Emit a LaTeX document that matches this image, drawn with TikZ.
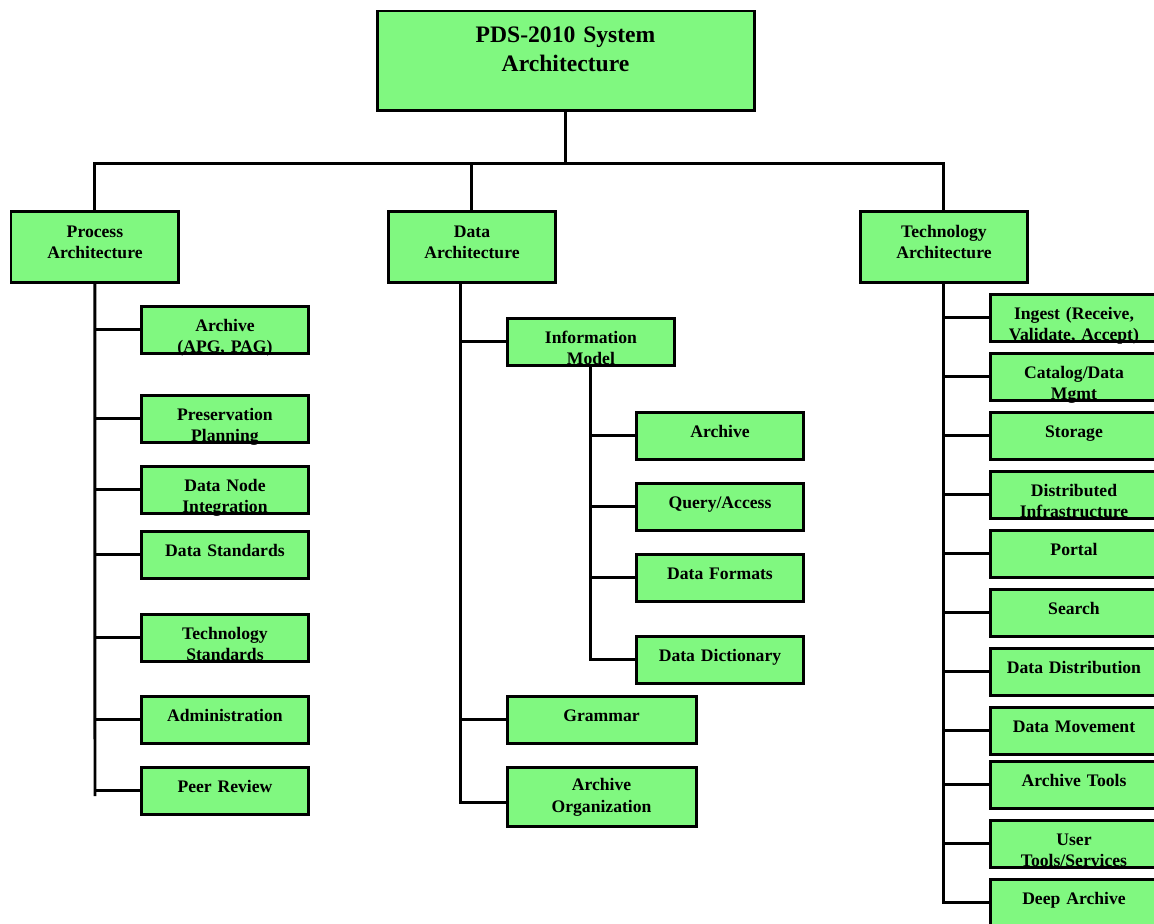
\documentclass[tikz,border=0pt]{standalone}
\usepackage{fontspec}
\setmainfont{Liberation Serif}
\definecolor{boxgreen}{RGB}{128,248,128}

\begin{document}
\begin{tikzpicture}[x=0.5675pt, y=-0.5675pt, line width=1.7pt,
        box/.style={draw, fill=boxgreen, line width=1.7pt, anchor=north west,
            outer sep=0pt, inner xsep=0pt, inner ysep=0pt, align=center,
            text width=95.3pt, text height=14.2pt, text depth=12.5pt,
            font=\bfseries\fontsize{10}{12}\selectfont},
        headbox/.style={box, text height=14.8pt, text depth=25.5pt},
        topbox/.style={box, text width=214pt, text height=18.1pt, text depth=38.6pt,
            font=\bfseries\fontsize{13.4}{16}\selectfont},
        widebox/.style={box, text width=107.3pt},
        tallbox/.style={box, text width=107.3pt, text height=13.6pt, text depth=19.9pt}]
        \useasboundingbox (0,0) rectangle (1154,923);
        \node[topbox] (top) at (377,11) {PDS-2010 System\\Architecture};
        \node[headbox] (proc) at (11,211) {Process\\Architecture};
        \node[headbox] (data) at (388,211) {Data\\Architecture};
        \node[headbox] (tech) at (860,211) {Technology\\Architecture};
        % process architecture
        \node[box] (parch) at (141,306) {Archive\\(APG, PAG)};
        \node[box] (ppres) at (141,395) {Preservation\\Planning};
        \node[box] (pnode) at (141,466) {Data Node\\Integration};
        \node[box] (pstd) at (141,531) {Data Standards};
        \node[box] (ptech) at (141,614) {Technology\\Standards};
        \node[box] (padmin) at (141,696) {Administration};
        \node[box] (ppeer) at (141,767) {Peer Review};
        % data architecture
        \node[box] (info) at (507,318) {Information\\Model};
        \node[box] (darch) at (636,412) {Archive};
        \node[box] (dquery) at (636,483) {Query/Access};
        \node[box] (dfmt) at (636,554) {Data Formats};
        \node[box] (ddict) at (636,636) {Data Dictionary};
        \node[widebox] (dgram) at (507,696) {Grammar};
        \node[tallbox] (dorg) at (507,767) {Archive\\Organization};
        % technology architecture
        \node[box] (ingest) at (990,294) {Ingest (Receive,\\Validate, Accept)};
        \node[box] (catalog) at (990,353) {Catalog/Data\\Mgmt};
        \node[box] (storage) at (990,412) {Storage};
        \node[box] (distr) at (990,471) {Distributed\\Infrastructure};
        \node[box] (portal) at (990,530) {Portal};
        \node[box] (search) at (990,589) {Search};
        \node[box] (ddist) at (990,648) {Data Distribution};
        \node[box] (dmove) at (990,707) {Data Movement};
        \node[box] (atools) at (990,761) {Archive Tools};
        \node[box] (utools) at (990,820) {User\\Tools/Services};
        \node[box] (deep) at (990,879) {Deep Archive};
        % connectors
        \coordinate (bus) at (565,163);
        \coordinate (pend) at (95,796);
        \coordinate (dtop) at (460,282);
        \coordinate (dend) at (460,802);
        \draw (top.south) -- (top.south |- bus);
        \draw (proc.north) |- (bus) -| (tech.north);
        \draw (data.north) -- (data.north |- bus);
        \draw (proc.south) -- (pend);
        \draw (parch.west) -- (parch.west -| pend);
        \draw (ppres.west) -- (ppres.west -| pend);
        \draw (pnode.west) -- (pnode.west -| pend);
        \draw (pstd.west) -- (pstd.west -| pend);
        \draw (ptech.west) -- (ptech.west -| pend);
        \draw (padmin.west) -- (padmin.west -| pend);
        \draw (ppeer.west) -- (ppeer.west -| pend);
        \draw (dtop) -- (dend) -- (dend -| dorg.west);
        \draw (info.west) -- (info.west -| dtop);
        \draw (dgram.west) -- (dgram.west -| dtop);
        \draw (info.south) |- (ddict.west);
        \draw (darch.west) -- (darch.west -| info.south);
        \draw (dquery.west) -- (dquery.west -| info.south);
        \draw (dfmt.west) -- (dfmt.west -| info.south);
        \draw (tech.south) |- (deep.west);
        \draw (ingest.west) -- (ingest.west -| tech.south);
        \draw (catalog.west) -- (catalog.west -| tech.south);
        \draw (storage.west) -- (storage.west -| tech.south);
        \draw (distr.west) -- (distr.west -| tech.south);
        \draw (portal.west) -- (portal.west -| tech.south);
        \draw (search.west) -- (search.west -| tech.south);
        \draw (ddist.west) -- (ddist.west -| tech.south);
        \draw (dmove.west) -- (dmove.west -| tech.south);
        \draw (atools.west) -- (atools.west -| tech.south);
        \draw (utools.west) -- (utools.west -| tech.south);
    \end{tikzpicture}
\end{document}
